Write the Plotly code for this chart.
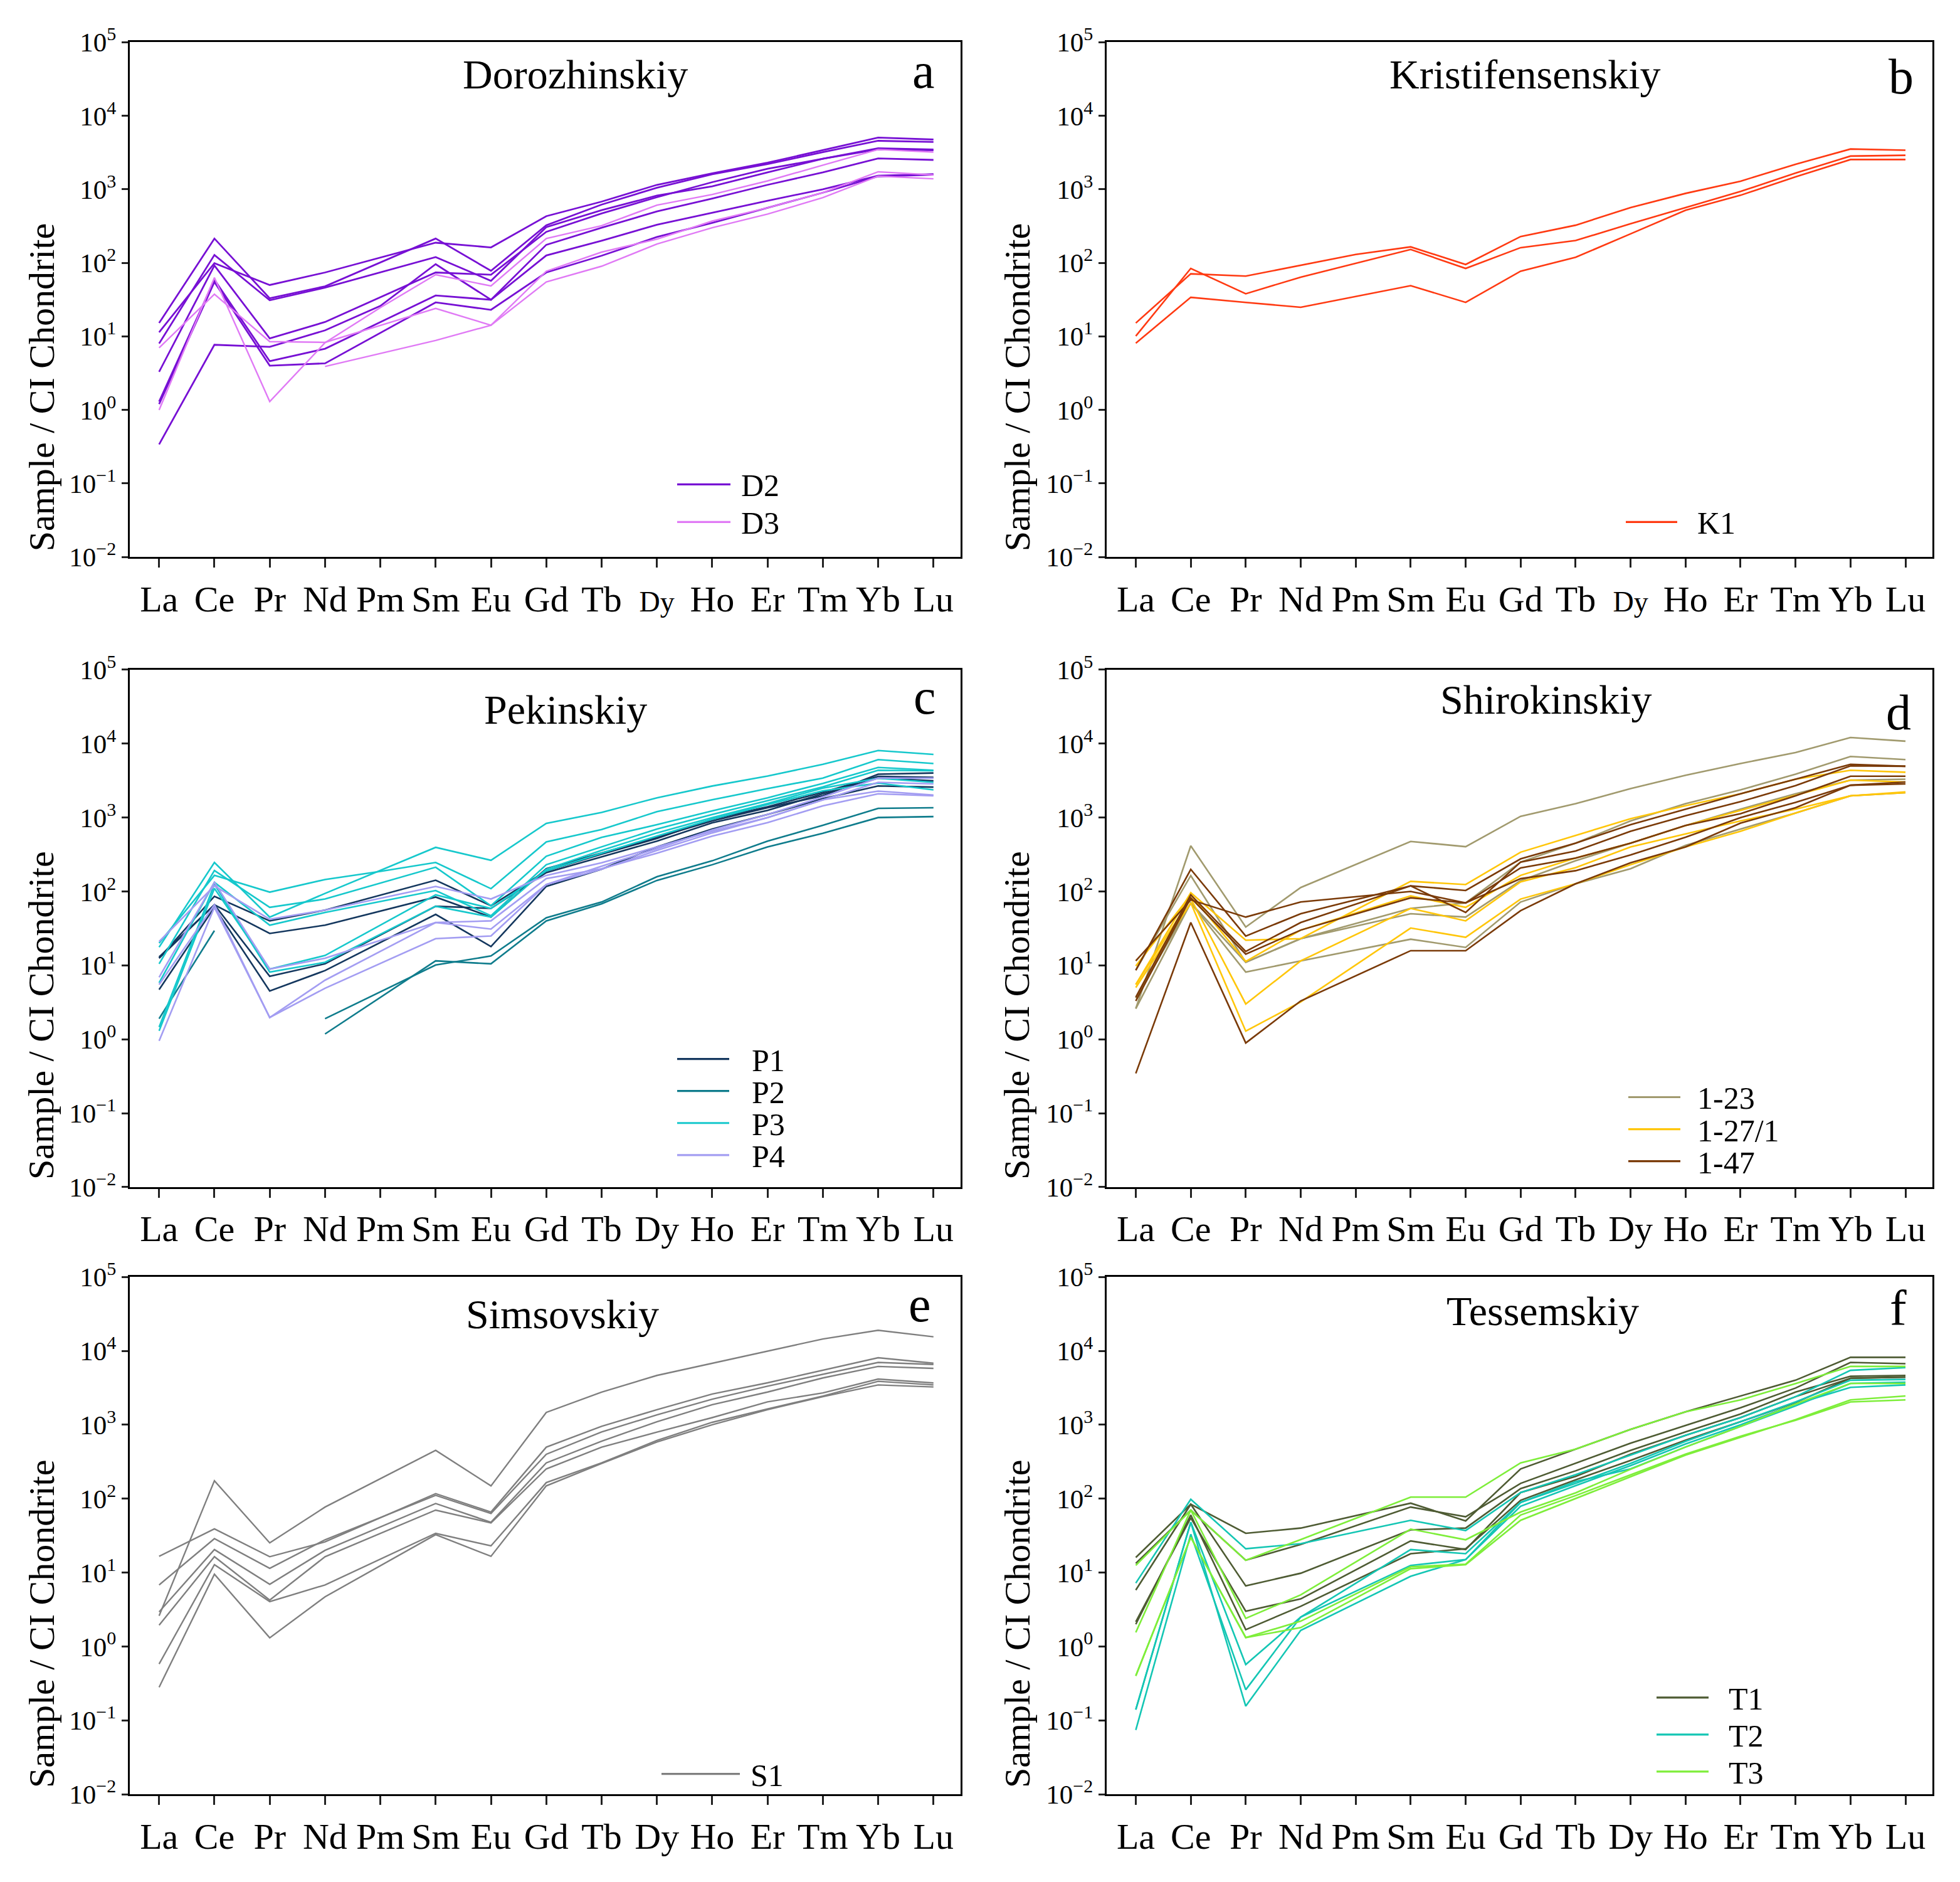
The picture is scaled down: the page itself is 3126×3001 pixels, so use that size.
import plotly.graph_objects as go

W, H = 3126, 3001

ELEMENTS = ["La", "Ce", "Pr", "Nd", "Pm", "Sm", "Eu", "Gd", "Tb", "Dy", "Ho", "Er", "Tm", "Yb", "Lu"]
Y_TICKS = [1e-2, 1e-1, 1e0, 1e1, 1e2, 1e3, 1e4, 1e5]
Y_TICK_TEXT = ["10<sup>−2</sup>", "10<sup>−1</sup>", "10<sup>0</sup>", "10<sup>1</sup>",
               "10<sup>2</sup>", "10<sup>3</sup>", "10<sup>4</sup>", "10<sup>5</sup>"]

# ---------------- data (Sample / CI chondrite), None = not analysed ----------------
# a  Dorozhinskiy
D2 = [
    [11.4, 99, 50, 74, None, 188, 162, 431, 680, 1150, 1650, 2300, 3400, 5050, 4750],
    [15.2, 214, 33, 48, None, 214, 78, 325, 620, 1050, 1600, 2200, 3200, 4570, 4400],
    [8.0, 128, 31, 46, None, 120, 57, 306, 520, 820, 1100, 1700, 2600, 3620, 3480],
    [3.3, 92, 9.4, 15.7, None, 74, 69, 264, 470, 780, 1250, 1900, 2600, 3500, 3400],
    [0.34, 7.7, 7.2, 12.1, 26, 96, 31.5, 176, 300, 500, 750, 1150, 1700, 2630, 2510],
    [1.3, 59, 4.6, 6.8, None, 36, 31.5, 126, 200, 330, 480, 700, 1000, 1530, 1610],
    [1.2, 55, 4.0, 4.3, None, 29, 23, 74, 125, 225, 350, 560, 900, 1500, 1580],
]
D3 = [
    [7.0, 37.5, 8.5, 8.3, None, 24, 14.2, 77, 140, 210, 370, 560, 900, 1730, 1570],
    [1.0, 63, 1.3, 8.2, 24.6, 69, 48.5, 214, 320, 610, 850, 1300, 2130, 3480, 3200],
    [None, None, None, 3.9, None, 8.8, 14.2, 55, 90, 180, 300, 460, 770, 1510, 1390],
]
# b  Kristifensenskiy
K1 = [
    [15.2, 71, 66, 93, 130, 165, 95, 228, 325, 565, 880, 1290, 2190, 3530, 3400],
    [10.1, 84, 38, 64, None, 152, 84, 161, 201, 340, 565, 935, 1660, 2830, 2900],
    [8.1, 34, 29, 24.9, None, 49, 29, 77, 119, 248, 519, 830, 1475, 2540, 2540],
]
# c  Pekinskiy
P1 = [
    [13, 66, 27, 35, None, 84, 45, 203, 330, 540, 900, 1360, 1970, 3860, 4010],
    [4.7, 61, 4.5, 8.5, None, 49, 18, 117, 200, 400, 700, 1100, 1800, 2680, 2580],
    [12.5, 66, 7.1, 10.5, None, 63, 59, 180, 294, 480, 850, 1250, 2100, 3420, 3140],
    [12.5, 86, 40, 56, None, 142, 64, 190, 320, 520, 950, 1400, 2200, 3600, 3500],
]
P2 = [
    [1.9, 29.5, None, 1.9, None, 10.1, 13.4, 44, 72, 158, 260, 480, 784, 1330, 1360],
    [None, None, None, 1.18, None, 11.5, 10.5, 40, 68, 141, 230, 400, 613, 1000, 1030],
]
P3 = [
    [17.6, 247, 45, 94, None, 395, 264, 834, 1175, 1850, 2670, 3640, 5250, 8070, 7150],
    [20, 165, 98, 145, 187, 247, 109, 468, 690, 1200, 1740, 2460, 3420, 6080, 5380],
    [10.5, 192, 61, 79, None, 213, 64, 300, 540, 800, 1230, 1850, 2900, 4760, 4370],
    [5.8, 133, 35, 52, None, 103, 47, 230, 400, 700, 1100, 1700, 2600, 4370, 4300],
    [1.46, 125, 8.1, 11, None, 63, 45, 200, 360, 620, 1000, 1550, 2500, 3400, 3000],
    [1.3, 110, 8.9, 13.6, None, 90, 59, 190, 330, 560, 950, 1500, 2300, 2920, 2370],
]
P4 = [
    [21, 119, 42, 56, None, 117, 79, 165, 244, 400, 650, 1000, 1740, 2280, 2020],
    [6.9, 133, 8.9, 12.5, None, 38, 40, 149, 203, 330, 560, 853, 1440, 2100, 1970],
    [0.95, 61, 1.97, 6.3, None, 38, 31, 124, 220, 380, 680, 1100, 1900, 3420, 3420],
    [5.5, 66, 1.97, 4.9, None, 23, 25, 124, 200, 360, 620, 1000, 1740, 3000, 2850],
]
# d  Shirokinskiy
S_1_23 = [
    [2.6, 414, 33, 113, None, 475, 404, 1040, 1540, 2460, 3730, 5380, 7580, 12100, 10800],
    [8.6, 164, 11, 23, None, 59, 70, 250, 450, 900, 1540, 2370, 3860, 6710, 6080],
    [3.6, 70, 11, 23, None, 50, 45, 140, 260, 450, 780, 1300, 2100, 3210, 3300],
    [2.6, 70, 8.1, 11.5, None, 22.6, 17.5, 72, 127, 203, 420, 700, 1150, 1970, 2170],
]
S_1_27 = [
    [5.5, 96, 21.9, 23, None, 137, 124, 340, 577, 966, 1450, 2100, 3300, 4370, 4110],
    [9.8, 90, 11.3, 30, None, 87, 61, 165, 283, 451, 780, 1250, 2000, 3210, 3030],
    [5.5, 80, 3.0, 11.5, None, 59, 40, 135, 210, 400, 600, 900, 1300, 1970, 2170],
    [5.0, 70, 1.29, 3.2, None, 32, 24, 79, 127, 230, 400, 652, 1150, 1970, 2220],
]
S_1_47 = [
    [11.5, 77, 45, 72, None, 100, 70, 208, 283, 451, 783, 1130, 1970, 3630, 3630],
    [8.6, 199, 24.9, 50, None, 119, 103, 276, 451, 800, 1300, 2100, 3300, 5250, 4940],
    [3.7, 90, 15.4, 38, None, 119, 52, 250, 353, 652, 1060, 1640, 2700, 5000, 4940],
    [3.3, 82, 14.2, 30, None, 82, 70, 149, 191, 312, 542, 1000, 1600, 2740, 3030],
    [0.345, 38, 0.89, 3.3, None, 15.8, 15.8, 55, 127, 244, 400, 840, 1360, 2740, 2850],
]
# e  Simsovskiy
S1 = [
    [2.6, 175, 25.2, 77, None, 451, 149, 1470, 2770, 4650, 6800, 9950, 14500, 19000, 15500],
    [16.6, 39, 16.4, 26, None, 117, 66, 498, 954, 1600, 2610, 3700, 5440, 8070, 6800],
    [6.8, 28.8, 11.4, 27.8, None, 111, 63, 399, 800, 1360, 2220, 3330, 4820, 6970, 6540],
    [2.94, 20.5, 6.95, 20, None, 86, 48, 305, 600, 1100, 1870, 2770, 4300, 6160, 5790],
    [1.94, 16.4, 4.25, 16.4, None, 70, 47, 253, 498, 795, 1250, 2040, 2700, 4160, 3680],
    [0.58, 12.8, 4.05, 6.8, None, 34, 23, 165, 305, 613, 1080, 1640, 2450, 3870, 3460],
    [0.28, 9.5, 1.31, 4.7, None, 32.6, 16.6, 149, 300, 584, 1000, 1600, 2400, 3460, 3250],
]
# f  Tessemskiy
T1 = [
    [16, 84, 34, 40, None, 87, 50, 253, 468, 865, 1500, 2450, 4010, 8170, 8170],
    [13.3, 70, 14.7, 24, None, 77, 57, 161, 300, 563, 977, 1700, 3140, 6970, 6710],
    [5.8, 84, 6.6, 9.8, None, 37.8, 40, 137, 238, 450, 800, 1400, 2770, 4530, 4650],
    [2.16, 55, 3.0, 4.4, None, 26.8, 20.5, 121, 200, 400, 720, 1250, 2400, 4260, 4420],
    [2.0, 60, 1.69, 3.5, None, 18, 21, 95, 180, 330, 620, 1100, 2000, 4260, 4420],
]
T2 = [
    [7.2, 98, 21, 24.6, None, 51, 37, 121, 211, 389, 720, 1250, 2400, 5450, 5940],
    [0.14, 48, 0.57, 2.5, None, 20.5, 18, 89, 161, 300, 598, 1100, 2040, 4010, 4110],
    [0.074, 33, 0.26, 2.5, None, 12.5, 15, 79, 150, 280, 550, 1000, 1900, 3210, 3460],
    [0.14, 48, 0.156, 1.65, None, 8.9, 15, 89, 170, 253, 500, 950, 1800, 3630, 3770],
]
T3 = [
    [12.5, 70, 14.7, 28, None, 105, 105, 305, 468, 865, 1500, 2170, 3600, 6160, 6160],
    [1.55, 70, 2.4, 5.0, None, 38.7, 27.8, 66, 120, 250, 500, 950, 1900, 3630, 3630],
    [0.40, 30, 1.32, 1.8, None, 11.3, 12.8, 51, 101, 198, 389, 677, 1175, 2170, 2450],
    [0.40, 30, 1.32, 2.2, None, 12, 13, 60, 110, 210, 400, 700, 1150, 2040, 2170],
]

TITLES = ["Dorozhinskiy", "Kristifensenskiy", "Pekinskiy", "Shirokinskiy", "Simsovskiy", "Tessemskiy"]
LETTERS = ["a", "b", "c", "d", "e", "f"]
SERIES = [
    [("D2", D2, "#7710D4", 2.8), ("D3", D3, "#E07AF5", 2.4)],
    [("K1", K1, "#FF3A12", 2.6)],
    [("P1", P1, "#14375E", 2.6), ("P2", P2, "#0F7C8C", 2.6), ("P3", P3, "#16C8CC", 2.6), ("P4", P4, "#A39DF2", 2.6)],
    [("1-23", S_1_23, "#A19A6E", 2.6), ("1-27/1", S_1_27, "#FFC60A", 2.6), ("1-47", S_1_47, "#7A3A08", 2.6)],
    [("S1", S1, "#7F7F7F", 2.4)],
    [("T1", T1, "#4E5B33", 2.6), ("T2", T2, "#14C6B4", 2.6), ("T3", T3, "#7EEE3A", 2.6)],
]

# ---------------- layout geometry (pixels in the 3126 x 3001 page) ----------------
COLS = [(207, 1532), (1765, 3082)]
ROWS = [(38, 874), (1057, 1897), (2043, 2883)]
TITLE_POS = [(917, 112), (2432, 112), (902, 1144), (2465, 1128), (897, 2126), (2460, 2121)]   # centre x, baseline
LETTER_POS = [(1473, 112), (3032, 121), (1475, 1128), (3028, 1153), (1467, 2115), (3027, 2121)]
YTITLE_POS = [(66, 598), (1622, 598), (66, 1618), (1622, 1618), (66, 2606), (1622, 2606)]
LEGEND = [  # line x0, x1, text x, first row y, row step
    (1080, 1165, 1180, 756, 61),
    (2593, 2675, 2705, 817, 60),
    (1080, 1163, 1197, 1689, 52),
    (2597, 2680, 2705, 1751, 52),
    (1055, 1180, 1195, 2850, 60),
    (2642, 2725, 2755, 2726, 60),
]

FONT = "Liberation Serif"


def px_x(x):
    return x / W


def px_y(y):
    return 1 - y / H


fig = go.Figure()
layout = dict(width=W, height=H, margin=dict(l=0, r=0, t=0, b=0),
              paper_bgcolor="white", plot_bgcolor="white", showlegend=False,
              font=dict(family=FONT, color="black"))
annotations = []
shapes = []

for i in range(6):
    r, c = divmod(i, 2)
    ax = "" if i == 0 else str(i + 1)
    (x0, x1), (y0, y1) = COLS[c], ROWS[r]

    dy_label = "<span style='font-size:46px'>Dy</span>" if i < 2 else "Dy"
    ticktext = [dy_label if e == "Dy" else e for e in ELEMENTS]

    layout["xaxis" + ax] = dict(
        domain=[px_x(x0), px_x(x1)], anchor="y" + ax, type="category",
        categoryorder="array", categoryarray=ELEMENTS, range=[-0.53, 14.49],
        tickmode="array", tickvals=ELEMENTS, ticktext=ticktext,
        ticks="outside", ticklen=14, tickwidth=2.5, tickcolor="#222",
        showline=True, linecolor="black", linewidth=3, mirror=True,
        showgrid=False, zeroline=False, tickfont=dict(family=FONT, size=58, color="black"),
    )
    layout["yaxis" + ax] = dict(
        domain=[px_y(y1), px_y(y0)], anchor="x" + ax, type="log", range=[-2, 5],
        tickmode="array", tickvals=Y_TICKS, ticktext=Y_TICK_TEXT,
        ticks="outside", ticklen=10, tickwidth=2.5, tickcolor="#222",
        showline=True, linecolor="black", linewidth=3, mirror=True,
        showgrid=False, zeroline=False, tickfont=dict(family=FONT, size=43, color="black"),
    )

    for name, lines, color, width in SERIES[i]:
        for vals in lines:
            xs, ys = [], []
            for e, v in zip(ELEMENTS, vals):
                if v is None and e == "Pm":
                    continue
                xs.append(e)
                ys.append(v)
            fig.add_trace(go.Scatter(x=xs, y=ys, mode="lines", connectgaps=False,
                                     line=dict(color=color, width=width),
                                     xaxis="x" + ax, yaxis="y" + ax, hoverinfo="skip"))

    # title and panel letter
    tx, tb = TITLE_POS[i]
    annotations.append(dict(text=TITLES[i], x=px_x(tx), y=px_y(tb - 0.3375 * 66), xref="paper", yref="paper",
                            xanchor="center", yanchor="middle", showarrow=False,
                            font=dict(family=FONT, size=66, color="black")))
    lx, lb = LETTER_POS[i]
    annotations.append(dict(text=LETTERS[i], x=px_x(lx), y=px_y(lb - 0.3375 * 80), xref="paper", yref="paper",
                            xanchor="center", yanchor="middle", showarrow=False,
                            font=dict(family=FONT, size=80, color="black")))
    yx, yy = YTITLE_POS[i]
    annotations.append(dict(text="Sample / CI Chondrite", x=px_x(yx), y=px_y(yy), xref="paper", yref="paper",
                            xanchor="center", yanchor="middle", textangle=-90, showarrow=False,
                            font=dict(family=FONT, size=58, color="black")))

    # legend
    lx0, lx1, ltx, ly, step = LEGEND[i]
    for k, (name, lines, color, width) in enumerate(SERIES[i]):
        yk = ly + k * step
        shapes.append(dict(type="line", xref="paper", yref="paper",
                           x0=px_x(lx0), x1=px_x(lx1), y0=px_y(yk), y1=px_y(yk),
                           line=dict(color=color, width=3.2)))
        annotations.append(dict(text=name, x=px_x(ltx), y=px_y(yk + 2), xref="paper", yref="paper",
                                xanchor="left", yanchor="middle", showarrow=False,
                                font=dict(family=FONT, size=50, color="black")))

layout["annotations"] = annotations
layout["shapes"] = shapes
fig.update_layout(**layout)
fig.write_html("out.html", config={"displayModeBar": False},
               post_script="document.body.style.margin='0px';")
